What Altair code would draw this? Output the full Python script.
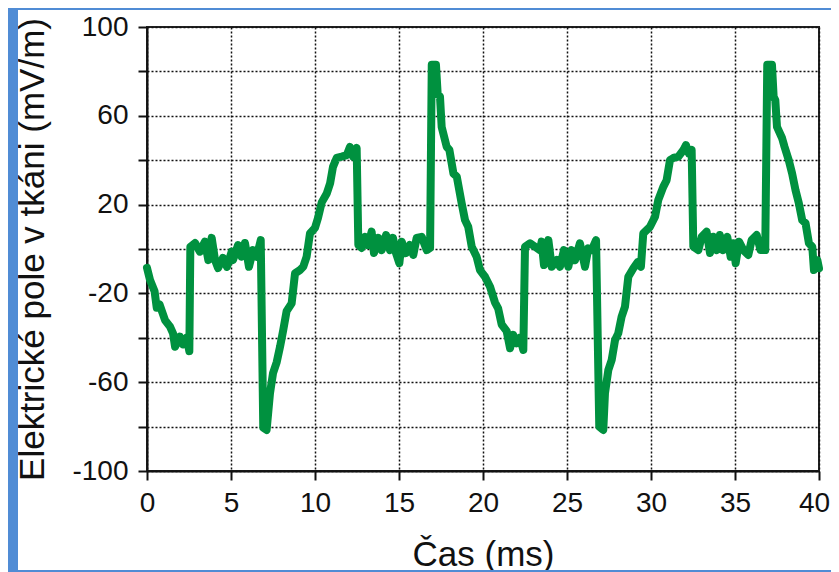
import altair as alt
import pandas as pd

# Time (ms) and field (mV/m)
t = [0.0, 0.18, 0.45, 0.58, 0.75, 1.07, 1.37, 1.55, 1.67, 1.96, 2.15, 2.36, 2.52,
     2.58, 2.86, 3.15, 3.45, 3.65, 3.85, 4.05, 4.23, 4.52, 4.76, 5.04, 5.12, 5.42,
     5.63, 5.83, 6.07, 6.31, 6.53, 6.77,
     6.92, 7.12, 7.32, 7.5, 7.72, 7.92, 8.11, 8.31, 8.61, 8.81, 9.1, 9.3, 9.5, 9.7,
     10.0, 10.18, 10.4, 10.7, 10.9, 11.07, 11.29, 11.59, 11.89, 12.08, 12.27, 12.48,
     12.58, 12.77, 12.98, 13.16, 13.37, 13.51, 13.77, 13.97, 14.23, 14.46, 14.64,
     14.82, 15.02, 15.16, 15.42, 15.65, 15.85, 16.05, 16.35, 16.65, 16.85,
     16.95, 17.2, 17.3, 17.44, 17.54, 17.84, 18.0, 18.24, 18.44, 18.73, 18.93, 19.12,
     19.33, 19.62, 19.82, 20.12,
     20.42, 20.71, 20.9, 21.11, 21.41, 21.61, 21.8, 22.0, 22.2, 22.4,
     22.5, 22.8, 23.1, 23.39, 23.49, 23.63, 23.89, 24.09, 24.39, 24.58, 24.82, 25.08,
     25.28, 25.48, 25.77, 26.07, 26.27, 26.47, 26.73,
     26.92, 27.16, 27.26, 27.46, 27.66, 27.86, 28.05, 28.25, 28.45, 28.65, 28.95,
     29.2, 29.4, 29.54, 29.94, 30.24, 30.43, 30.73, 30.93, 31.13, 31.33, 31.63, 31.93,
     32.08, 32.25, 32.42,
     32.52, 32.82, 33.02, 33.31, 33.51, 33.71, 33.91, 34.1, 34.3, 34.54, 34.74, 34.9,
     35.04, 35.24, 35.5, 35.79, 35.99, 36.29, 36.52, 36.8,
     36.92, 37.2, 37.3, 37.4, 37.5, 37.8, 37.95, 38.2, 38.4, 38.6, 38.8, 39.0, 39.2,
     39.4, 39.6, 39.7, 39.9, 40.0]

v = [-8.5, -14, -19, -26.5, -25, -32, -35, -38, -44, -39.5, -43, -40, -46,
     1, 2.7, -1.2, 3.3, -5, 5, -5, -8.6, -4, -8, -1.2, -5, 1.8,
     -3.5, 2.7, -8, -0.5, -3.5, 4,
     -80.5, -81.5, -65, -56, -51, -44, -36.5, -28, -24.5, -11, -9.5, -8, -3.5, 7,
     9.5, 14, 21, 25, 29.6, 37, 41, 41.6, 42.3, 46, 41.6, 45.5,
     1.8, 0.5, 5.5, 1.8, 7.8, -1.8, 5, -0.5, 6.3, -0.5, 5,
     -1.8, -6.4, 3.3, -1.8, 1.8, -2.7, 5, 5.5, -0.5, 0.5,
     83, 83, 70, 68.6, 55, 46, 44.6, 34, 32.6, 20.6, 13, 10,
     1, -3.5, -9.5, -12.5,
     -17, -24, -26.7, -34, -37, -44.7, -38.7, -42.5, -40, -45.5,
     1, 2.6, 1, -0.5, 3.3, -7.2, 4, -8, -5, -8, -0.5, -8,
     -0.5, -5, 2.6, -8, 0.3, -0.5, 4,
     -80, -81.5, -65, -54.5, -50, -41, -38, -30.5, -26, -12.5, -8.7,
     -6, -8, 7, 10, 14.5, 22, 28, 31, 40, 41, 41.6, 44.6,
     46.8, 43, 44.6,
     1, -0.5, 5.5, 7.8, -1.8, 5.5, -0.5, 6.3, -0.5, 5.5, -3.5, 2.6,
     -6.4, 3.3, -0.5, -2.7, 4, 6.3, -0.5, -0.5,
     83, 83, 68.6, 67, 55, 50, 46, 40, 34, 26.6, 20.6, 13, 11.6,
     2.6, 1, -9.5, -5, -8.7]

x_ticks = [0, 5, 10, 15, 20, 25, 30, 35, 40]
y_ticks = [-100, -80, -60, -40, -20, 0, 20, 40, 60, 80, 100]

df = pd.DataFrame({"t": t, "v": v})

FONT = "Liberation Sans"
BLUE = "#508cd5"

line = alt.Chart(df).mark_line(
    color="#00913f", strokeWidth=8, strokeCap="round", strokeJoin="round"
).encode(
    x=alt.X("t:Q",
            scale=alt.Scale(domain=[0, 40], nice=False, zero=False),
            axis=alt.Axis(values=x_ticks, title="Čas (ms)", labelFlush=False,
                          labelOverlap=False, labelPadding=9,
                          labelOffset={"condition": {"test": "datum.value == 40", "value": -5},
                                       "value": 0},
                          titleX=336, titleY=94, titleBaseline="alphabetic",
                          titleAlign="center")),
    y=alt.Y("v:Q",
            scale=alt.Scale(domain=[-100, 100], nice=False, zero=False),
            axis=alt.Axis(values=y_ticks,
                          labelExpr="(datum.value + 100) % 40 == 0 ? '' + datum.value : ''",
                          title="Elektrické pole v tkáni (mV/m)", labelOverlap=False,
                          labelPadding=10, titleX=-104, titleY=222, titleAngle=270,
                          titleBaseline="alphabetic", titleAlign="center")),
)

frame_src = alt.Data(values=[{"k": 1}])
left_strip = alt.Chart(frame_src).mark_rect(color=BLUE).encode(
    x=alt.value(-139), x2=alt.value(-129), y=alt.value(-19), y2=alt.value(545))
top_strip = alt.Chart(frame_src).mark_rect(color=BLUE).encode(
    x=alt.value(-139), x2=alt.value(684), y=alt.value(-19), y2=alt.value(-17))
bottom_strip = alt.Chart(frame_src).mark_rect(color=BLUE).encode(
    x=alt.value(-139), x2=alt.value(684), y=alt.value(543), y2=alt.value(545))

chart = alt.layer(line, left_strip, top_strip, bottom_strip).properties(
    width=672, height=444,
    padding={"left": 139, "top": 19, "right": 12, "bottom": 101},
    autosize=alt.AutoSizeParams(type="none"),
    background="white",
).configure_view(
    stroke="#222222", strokeWidth=2
).configure_axis(
    domainColor="#111111", domainWidth=2,
    tickColor="#111111", tickWidth=2, tickSize=9,
    grid=True, gridColor="#111111", gridDash=[2, 2], gridWidth=1.5,
    labelFont=FONT, labelFontSize=28, labelColor="#111111",
    titleFont=FONT, titleFontSize=35, titleFontWeight="normal", titleColor="#111111",
)

chart.save("out.html", embed_options={"renderer": "svg", "actions": False})
